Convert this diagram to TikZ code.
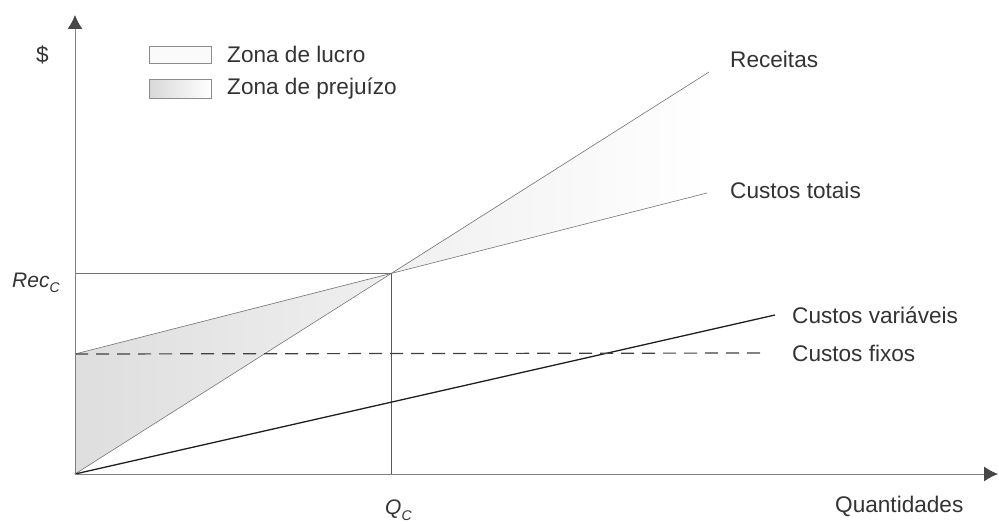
\documentclass[tikz,border=0pt]{standalone}
\usepackage{fontspec}
\setmainfont{Liberation Sans}
\usetikzlibrary{arrows.meta}
\definecolor{txt}{HTML}{333333}
\begin{document}
\begin{tikzpicture}[x=1pt,y=-1pt,
  lbl/.style={anchor=base west,inner sep=0pt,text=txt,font=\fontsize{22.6}{27}\selectfont},
  mathlbl/.style={anchor=base west,inner sep=0pt,text=txt,font=\fontsize{21}{25}\selectfont\itshape},
  thinline/.style={draw=black!55,line width=0.6pt},
  axisline/.style={draw=black!50,line width=0.9pt,-{Latex[length=14pt,width=15pt,color=black!72]}},
  lossfill/.style={left color=black!13,right color=black!6},
  profitfill/.style={left color=black!6,right color=white},
  legendbox/.style={draw=black!45,line width=0.5pt}
]
\useasboundingbox (0,0) rectangle (999,524);
% key points
\coordinate (O) at (75,474);
\coordinate (Ytop) at (75,15);
\coordinate (Xend) at (998,474);
\coordinate (BE) at (391,273);
\coordinate (RecC) at (75,273);
\coordinate (QC) at (391,474);
\coordinate (CF0) at (75,354);
\coordinate (RecEnd) at (709,72);
\coordinate (CTEnd) at (707,193);
\coordinate (CVEnd) at (775,315);
\coordinate (CFEnd) at (765,353);
% zones
\shade[lossfill] (O) -- (CF0) -- (BE) -- cycle;
\shade[profitfill] (BE) -- (RecEnd) -- (CTEnd) -- cycle;
% guide lines
\draw[thinline] (RecC) -- (BE);
\draw[draw=black!65,line width=0.8pt] (QC) -- (BE);
% curves
\draw[thinline] (O) -- (RecEnd);
\draw[thinline] (CF0) -- (CTEnd);
\draw[draw=black!88,line width=1.3pt] (O) -- (CVEnd);
\draw[draw=black!75,line width=1.2pt,dash pattern=on 13pt off 8pt] (CF0) -- (CFEnd);
% axes
\draw[axisline] (O) -- (Ytop);
\draw[axisline] (O) -- (Xend);
% legend
\node[legendbox,fill=black!2,minimum width=62pt,minimum height=17pt,inner sep=0pt,anchor=north west] (lbox1) at (149,46) {};
\node[legendbox,left color=black!15,right color=white,minimum width=62pt,minimum height=19pt,inner sep=0pt,anchor=north west] (lbox2) at (149,79) {};
\node[lbl] (lucro) at (227,63) {Zona de lucro};
\node[lbl] (prej) at (227,95) {Zona de prejuízo};
% labels
\node[lbl] (dollar) at (36,63) {\$};
\node[lbl] (rec) at (730,68) {Receitas};
\node[lbl] (ct) at (730,198) {Custos totais};
\node[lbl] (cv) at (792,323) {Custos variáveis};
\node[lbl] (cf) at (792,361) {Custos fixos};
\node[lbl] (qt) at (835,512) {Quantidades};
\node[mathlbl] (recclbl) at (12,287) {Rec\raisebox{-5pt}{\fontsize{14}{16}\selectfont C}};
\node[mathlbl] (qclbl) at (385,514) {Q\raisebox{-6pt}{\fontsize{14}{16}\selectfont C}};
\end{tikzpicture}
\end{document}
